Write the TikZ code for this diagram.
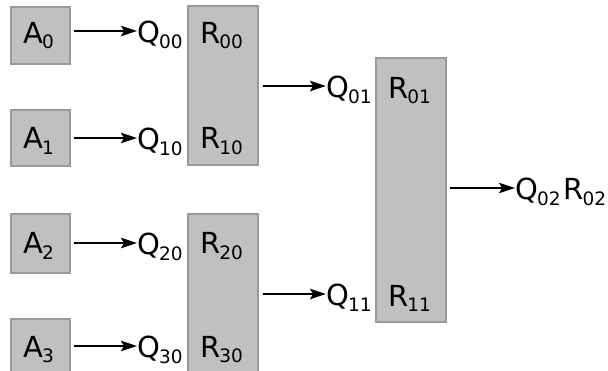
\documentclass[tikz,border=0pt]{standalone}
\usepackage{fontspec}
\setmainfont{DejaVu Sans}
\usetikzlibrary{arrows.meta}
\newcommand{\lbl}[2]{{\fontsize{29}{29}\selectfont #1}\kern-1pt\raisebox{-5.5pt}{\fontsize{18.5}{18.5}\selectfont #2}}
\begin{document}
\begin{tikzpicture}[x=1pt,y=-1pt,
  box/.style={draw={rgb,255:red,154;green,154;blue,154},fill={rgb,255:red,192;green,192;blue,192},line width=1.2pt,inner sep=0pt,minimum width=#1},
  box/.default=59pt,
  qlab/.style={inner sep=0pt,anchor=west,text height=24pt,text depth=0pt},
  rlab/.style={inner sep=0pt,anchor=base west},
  arr/.style={line width=1.6pt,-{Stealth[length=16pt,width=10.5pt,inset=3pt]}}]
\clip (0,0) rectangle (608,371);
\useasboundingbox (0,0) rectangle (608,371);
% A boxes
\node[box,minimum height=57pt] (a0) at (40.5,35.5) {};
\node[box,minimum height=56pt] (a1) at (40.5,138) {};
\node[box,minimum height=59pt] (a2) at (40.5,243.5) {};
\node[box,minimum height=57pt] (a3) at (40.5,347.5) {};
% R boxes
\node[box=70pt,minimum height=159pt] (r1) at (223,85.5) {};
\node[box=70pt,minimum height=159pt] (r2) at (223,293.5) {};
\node[box=70pt,minimum height=264pt] (r3) at (411,190) {};
% A labels
\node[rlab] (la0) at (23,43.5) {\lbl{A}{0}};
\node[rlab] (la1) at (23,149) {\lbl{A}{1}};
\node[rlab] (la2) at (23,254) {\lbl{A}{2}};
\node[rlab] (la3) at (23,357.5) {\lbl{A}{3}};
% Q labels
\node[qlab] (q00) at (137,31) {\lbl{Q}{00}};
\node[qlab] (q10) at (137,138) {\lbl{Q}{10}};
\node[qlab] (q20) at (137,243) {\lbl{Q}{20}};
\node[qlab] (q30) at (137,346) {\lbl{Q}{30}};
\node[qlab] (q01) at (326,86) {\lbl{Q}{01}};
\node[qlab] (q11) at (326,294) {\lbl{Q}{11}};
\node[qlab] (q02) at (515,188) {\lbl{Q}{02}\kern3pt\lbl{R}{02}};
% R labels
\node[rlab] (r00) at (200,43.5) {\lbl{R}{00}};
\node[rlab] (r10) at (200,149) {\lbl{R}{10}};
\node[rlab] (r20) at (200,254) {\lbl{R}{20}};
\node[rlab] (r30) at (200,357.5) {\lbl{R}{30}};
\node[rlab] (r01) at (388,98.5) {\lbl{R}{01}};
\node[rlab] (r11) at (388,306.5) {\lbl{R}{11}};
% arrows
\draw[arr,shorten <=3pt] (a0.east |- q00.west) -- (q00.west);
\draw[arr,shorten <=3pt] (a1.east |- q10.west) -- (q10.west);
\draw[arr,shorten <=3pt] (a2.east |- q20.west) -- (q20.west);
\draw[arr,shorten <=3pt] (a3.east |- q30.west) -- (q30.west);
\draw[arr,shorten <=4pt] (r1.east |- q01.west) -- (q01.west);
\draw[arr,shorten <=4pt] (r2.east |- q11.west) -- (q11.west);
\draw[arr,shorten <=3pt] (r3.east |- q02.west) -- (q02.west);
\end{tikzpicture}
\end{document}
